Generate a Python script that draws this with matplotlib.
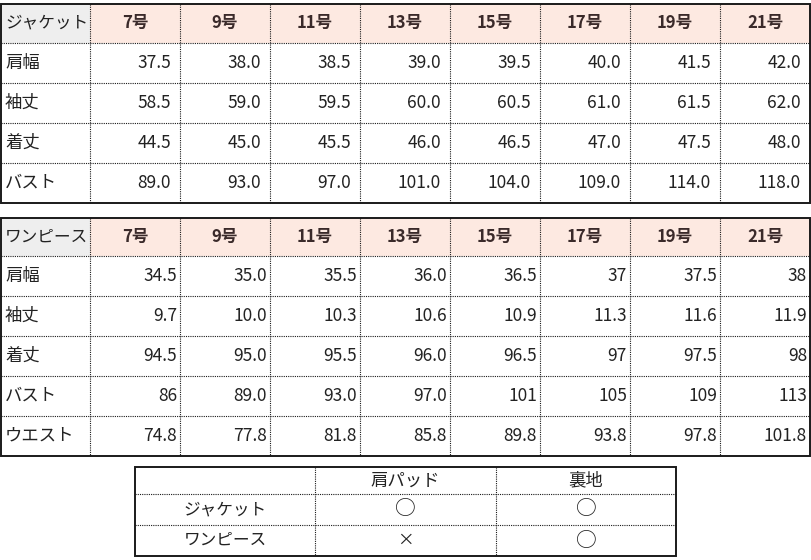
import matplotlib
matplotlib.use('Agg')
import matplotlib.pyplot as plt
from matplotlib.patches import Rectangle

plt.rcParams['font.family'] = ['Noto Sans CJK JP', 'DejaVu Sans']

# ---------------- data ----------------
sizes = ['7号', '9号', '11号', '13号', '15号', '17号', '19号', '21号']

jacket_title = 'ジャケット'
jacket_rows = ['肩幅', '袖丈', '着丈', 'バスト']
jacket_shoulder = ['37.5', '38.0', '38.5', '39.0', '39.5', '40.0', '41.5', '42.0']
jacket_sleeve = ['58.5', '59.0', '59.5', '60.0', '60.5', '61.0', '61.5', '62.0']
jacket_length = ['44.5', '45.0', '45.5', '46.0', '46.5', '47.0', '47.5', '48.0']
jacket_bust = ['89.0', '93.0', '97.0', '101.0', '104.0', '109.0', '114.0', '118.0']

dress_title = 'ワンピース'
dress_rows = ['肩幅', '袖丈', '着丈', 'バスト', 'ウエスト']
dress_shoulder = ['34.5', '35.0', '35.5', '36.0', '36.5', '37', '37.5', '38']
dress_sleeve = ['9.7', '10.0', '10.3', '10.6', '10.9', '11.3', '11.6', '11.9']
dress_length = ['94.5', '95.0', '95.5', '96.0', '96.5', '97', '97.5', '98']
dress_bust = ['86', '89.0', '93.0', '97.0', '101', '105', '109', '113']
dress_waist = ['74.8', '77.8', '81.8', '85.8', '89.8', '93.8', '97.8', '101.8']

opt_cols = ['肩パッド', '裏地']
opt_rows = ['ジャケット', 'ワンピース']
opt_pad = ['○', '×']
opt_lining = ['○', '○']

# ---------------- styles ----------------
GRAY = '#EEEEEE'
PINK = '#FDE9E1'
LINE = '#1a1a1a'
TXT = '#222222'
HDR_TXT = '#3a2a2a'
FS = 12.5

fig = plt.figure(figsize=(8.11, 5.6), dpi=100)
ax = fig.add_axes([0, 0, 1, 1])
ax.set_xlim(0, 811)
ax.set_ylim(560, 0)
ax.axis('off')


def draw_grid(xe, ye):
    # dotted inner lines
    for x in xe[1:-1]:
        ax.plot([x, x], [ye[0], ye[-1]], color=LINE, lw=0.8, ls=(0, (1, 1)))
    for y in ye[1:-1]:
        ax.plot([xe[0], xe[-1]], [y, y], color=LINE, lw=0.8, ls=(0, (1, 1)))
    ax.add_patch(Rectangle((xe[0], ye[0]), xe[-1] - xe[0], ye[-1] - ye[0],
                           fill=False, ec=LINE, lw=1.4, zorder=5))


def size_table(xe, ye, title, rows, values, pad):
    # header fills
    ax.add_patch(Rectangle((xe[0], ye[0]), xe[1] - xe[0], ye[1] - ye[0],
                           fc=GRAY, ec='none'))
    ax.add_patch(Rectangle((xe[1], ye[0]), xe[-1] - xe[1], ye[1] - ye[0],
                           fc=PINK, ec='none'))
    draw_grid(xe, ye)
    yc = (ye[0] + ye[1]) / 2
    ax.text(xe[0] + 4, yc, title, ha='left', va='center', fontsize=12, color=TXT)
    for j, s in enumerate(sizes):
        ax.text((xe[j + 1] + xe[j + 2]) / 2, yc, s, ha='center', va='center',
                fontsize=12, color=HDR_TXT, fontweight='bold')
    for i, (lab, vals) in enumerate(zip(rows, values)):
        yc = (ye[i + 1] + ye[i + 2]) / 2
        ax.text(xe[0] + 4, yc, lab, ha='left', va='center', fontsize=FS, color=TXT)
        for j, v in enumerate(vals):
            ax.text(xe[j + 2] - pad, yc, v, ha='right', va='center',
                    fontsize=FS, color=TXT)


col_edges = [1, 90, 180, 270, 360, 450, 540, 630, 720, 810]

size_table(col_edges, [4, 42.7, 82.7, 122.7, 162.7, 202.7], jacket_title,
           jacket_rows, [jacket_shoulder, jacket_sleeve, jacket_length, jacket_bust], 9)

size_table(col_edges, [218, 256, 296, 336, 376, 416, 455.5], dress_title,
           dress_rows, [dress_shoulder, dress_sleeve, dress_length, dress_bust, dress_waist], 3)

# options table
xe = [135, 315, 496, 676]
ye = [467, 494, 525, 556]
draw_grid(xe, ye)
for j, c in enumerate(opt_cols):
    ax.text((xe[j + 1] + xe[j + 2]) / 2, (ye[0] + ye[1]) / 2, c,
            ha='center', va='center', fontsize=12.5, color=TXT)
for i, (lab, a, b) in enumerate(zip(opt_rows, opt_pad, opt_lining)):
    yc = (ye[i + 1] + ye[i + 2]) / 2
    ax.text((xe[0] + xe[1]) / 2, yc, lab, ha='center', va='center', fontsize=12, color=TXT)
    ax.text((xe[1] + xe[2]) / 2, yc, a, ha='center', va='center',
            fontsize=15 if a == '○' else 12, color=TXT)
    ax.text((xe[2] + xe[3]) / 2, yc, b, ha='center', va='center',
            fontsize=15 if b == '○' else 12, color=TXT)

fig.savefig('out.png', dpi=100)
